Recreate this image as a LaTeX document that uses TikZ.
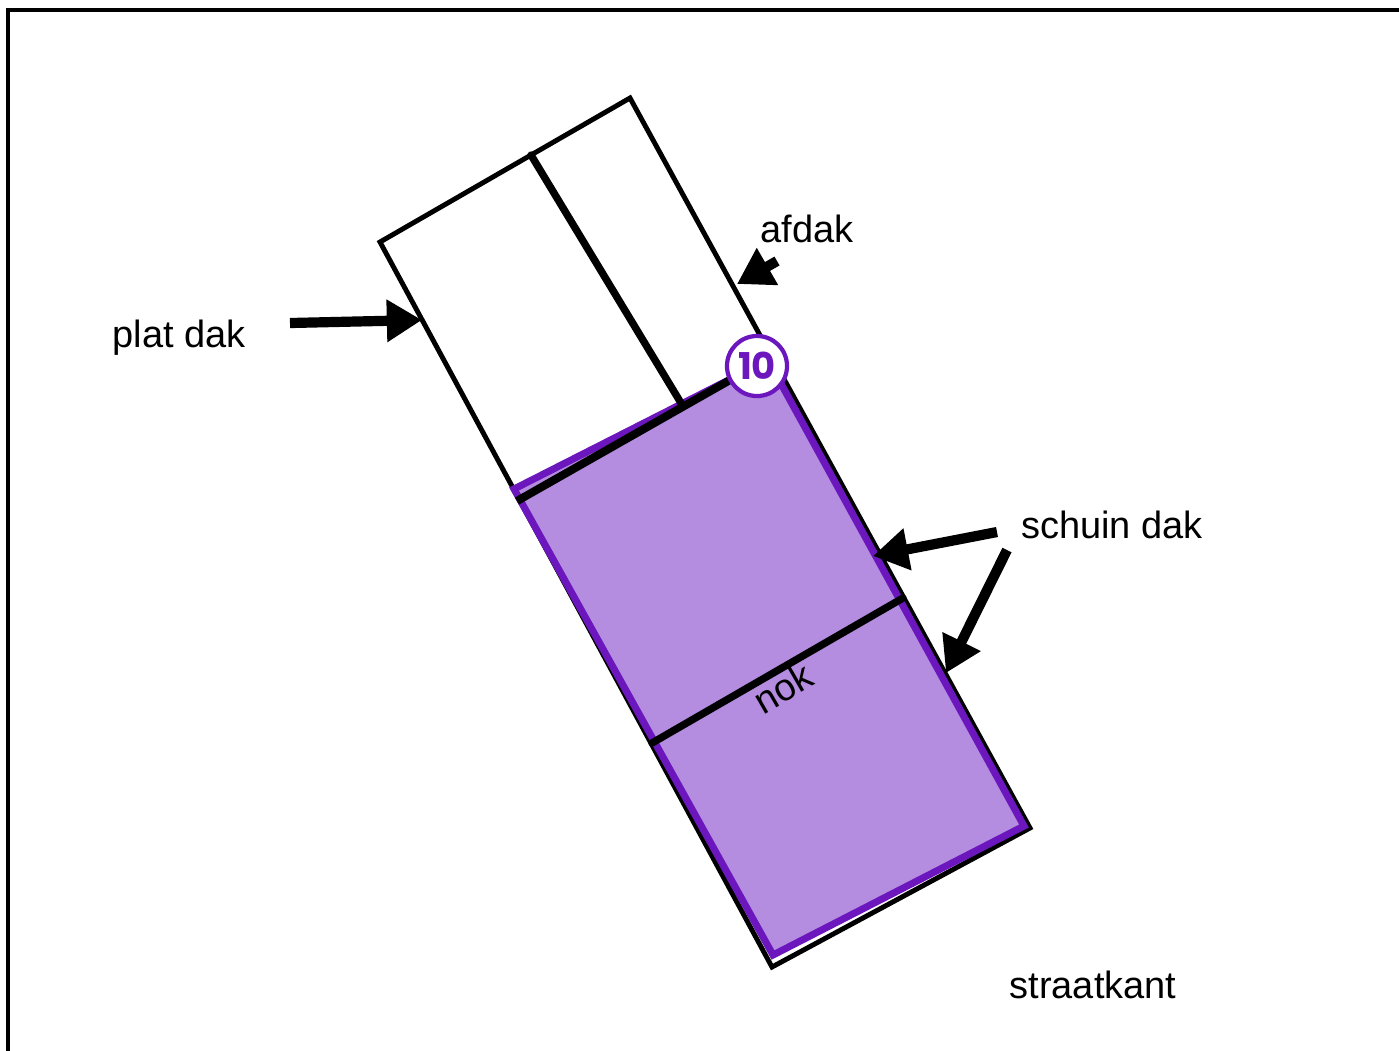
\documentclass[tikz,border=0pt]{standalone}
\usepackage{fontspec}
\setmainfont{Liberation Sans}
\newfontfamily\badgefont{Poppins}
\usetikzlibrary{positioning,arrows.meta}
\definecolor{roofpurple}{RGB}{180,140,224}
\definecolor{roofedge}{RGB}{108,22,190}

\begin{document}
\begin{tikzpicture}[x=0.01cm,y=-0.01cm,
    tag/.style={font=\fontsize{10.8}{13}\selectfont, inner sep=0pt},
    pointer/.style={line width=2.9pt, -{Triangle[length=10pt,width=11.5pt]}},
    outline/.style={line width=1.4pt, line join=miter},
    ridge/.style={line width=2.1pt, line cap=round}]
  \useasboundingbox (0,0) rectangle (1399,1050);
  \draw[line width=0.9pt] (8,1070) -- (8,10) -- (1420,10);
  % building corners
  \coordinate (tl) at (380,242); \coordinate (tr) at (630,98);
  \coordinate (br) at (1030,828); \coordinate (bl) at (772,967);
  \coordinate (topmid) at (531,155); \coordinate (divend) at (681,403);
  \draw[outline] (tl) -- (tr) -- (br) -- (bl) -- cycle;
  % sloped roof
  \fill[roofpurple, draw=roofedge, line width=2pt, line join=miter]
    (514,489) -- (768,360) -- (1024,826) -- (773,955) -- cycle;
  \draw[ridge] (topmid) -- (divend);
  \draw[line width=2.3pt] (517,501) -- (730,380);
  \draw[ridge] (652,743) -- (903,598);
  \node[circle, draw=roofedge, line width=1.2pt, fill=white, minimum size=0.6cm,
    inner sep=0pt, text=roofedge, font=\badgefont\bfseries\fontsize{10.5}{11}\selectfont]
    (badge) at (757,366) {10};
  % labels
  \node[tag] (plat) at (179,338) {plat dak};
  \node[tag] (afdak) at (807,229) {afdak};
  \node[tag] (schuin) at (1112,525) {schuin dak};
  \node[tag] (straat) at (1093,985) {straatkant};
  \node[tag, rotate=30] (nok) at (783,688) {nok};
  % arrows
  \coordinate (platfrom) at (290,323); \coordinate (platto) at (422,320);
  \coordinate (affrom) at (777,261); \coordinate (afto) at (737,284);
  \coordinate (sfromA) at (997,532); \coordinate (stoA) at (873,556);
  \coordinate (sfromB) at (1007,550); \coordinate (stoB) at (946,673);
  \draw[pointer] (platfrom) -- (platto);
  \draw[pointer] (affrom) -- (afto);
  \draw[pointer] (sfromA) -- (stoA);
  \draw[pointer] (sfromB) -- (stoB);
\end{tikzpicture}
\end{document}
